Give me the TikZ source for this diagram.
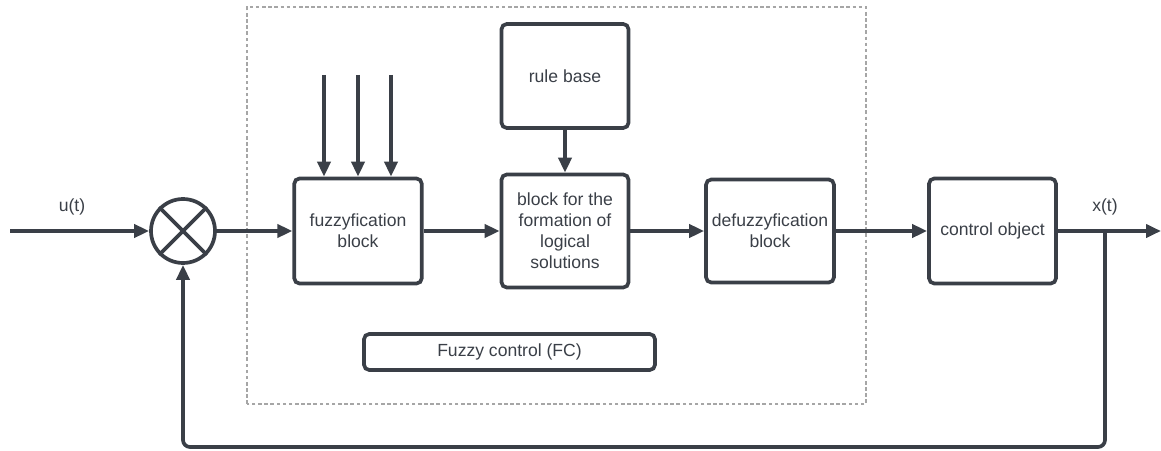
\documentclass[tikz,border=0pt]{standalone}
\usepackage{fontspec}
\setmainfont{Liberation Sans}
\usepackage{tikz}
\usetikzlibrary{positioning, calc, arrows.meta}
\definecolor{linegray}{HTML}{3A3F47}

\begin{document}
\begin{tikzpicture}[
    line width=2.1pt, draw=linegray, text=linegray,
    >={Triangle[length=0.3cm, width=0.26cm]},
    block/.style={draw=linegray, rounded corners=3pt, minimum width=2.55cm,
        minimum height=2.1cm, align=center, font=\fontsize{10}{12}\selectfont},
    sumnode/.style={draw=linegray, circle, minimum size=1.28cm, inner sep=0pt},
    frame/.style={draw=gray!70, line width=0.6pt, dash pattern=on 2pt off 1.5pt}]
    \useasboundingbox (0,0) rectangle (23.22,9);

    % fuzzy control frame
    \draw[frame] (4.94,0.92) rectangle (17.32,8.86);

    % blocks
    \node[sumnode] (sum) at (3.66,4.38) {};
    \draw (sum.north east) -- (sum.south west);
    \draw (sum.north west) -- (sum.south east);
    \node[block] (fuzz) at (7.16,4.38) {fuzzyfication\\block};
    \node[block, minimum width=2.54cm, minimum height=2.26cm] (logic) at (11.3,4.38)
        {block for the\\formation of\\logical\\solutions};
    \node[block, minimum width=2.54cm, minimum height=2.08cm] (rule) at (11.3,7.48) {rule base};
    \node[block, minimum height=2.06cm] (defuzz) at (15.4,4.38) {defuzzyfication\\block};
    \node[block, minimum width=2.54cm] (ctrl) at (19.85,4.38) {control object};
    \node[block, minimum width=5.82cm, minimum height=0.72cm] (fc) at (10.19,1.96) {Fuzzy control (FC)};

    % signals
    \coordinate (in) at (0.2,4.38);
    \coordinate (br) at (22.1,4.38);
    \coordinate (out) at (23.22,4.38);
    \coordinate (fb) at (3.66,0.06);
    \node[font=\fontsize{10}{12}\selectfont] (u) at (1.44,4.86) {u(t)};
    \node[font=\fontsize{10}{12}\selectfont] (x) at (22.1,4.86) {x(t)};

    % connectors
    \draw[->] (in) -- (sum.west);
    \draw[->] (sum.east) -- (fuzz.west);
    \draw[->] (fuzz.east) -- (logic.west);
    \draw[->] (rule.south) -- (logic.north);
    \draw[->] (logic.east) -- (defuzz.west);
    \draw[->] (defuzz.east) -- (ctrl.west);
    \draw[->] (ctrl.east) -- (out);
    \draw[->, rounded corners=4pt] (br) |- (fb) -- (sum.south);

    % inputs to fuzzyfication
    \foreach \i/\xx in {1/6.48, 2/7.16, 3/7.82} {
        \coordinate (top\i) at (\xx,7.5);
        \draw[->] (top\i) -- (top\i |- fuzz.north);
    }
\end{tikzpicture}
\end{document}
